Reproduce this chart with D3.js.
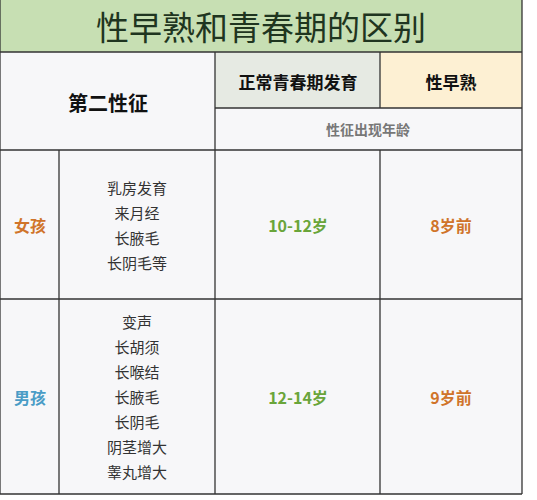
<!DOCTYPE html><html><head><meta charset="utf-8"><script src="https://cdn.jsdelivr.net/npm/d3@7"></script>
<style>body{margin:0;background:#fff}</style></head><body><svg id="c" width="537" height="500"></svg><script>
const title="性早熟和青春期的区别";
const headers=["第二性征","正常青春期发育","性早熟","性征出现年龄"];
const groups=["女孩","男孩"];
const groupColors=["#d0742a","#4a9cc6"];
const traits=[["乳房发育","来月经","长腋毛","长阴毛等"],["变声","长胡须","长喉结","长腋毛","长阴毛","阴茎增大","睾丸增大"]];
const normalAges=["10-12岁","12-14岁"];
const earlyAges=["8岁前","9岁前"];
const svg=d3.select("#c");const F="'Noto Sans CJK SC',sans-serif";
const y=d3.scaleLinear().domain([0,1]).range([150,494]);
const rowB=[0,(299-150)/344,1];
svg.append("rect").attr("x",0).attr("y",0).attr("width",522).attr("height",52).attr("fill","#c7dfb3");
svg.append("rect").attr("x",0).attr("y",52).attr("width",522).attr("height",442).attr("fill","#f7f7f9");
svg.append("rect").attr("x",215).attr("y",52).attr("width",165).attr("height",56).attr("fill","#e6eae3");
svg.append("rect").attr("x",380).attr("y",52).attr("width",142).attr("height",56).attr("fill","#fdf0d3");
svg.append("text").attr("x",261).attr("y",40).attr("text-anchor","middle").attr("font-family",F).attr("font-size",33).attr("fill","#1f3520").text(title);
const L=(x1,y1,x2,y2)=>svg.append("line").attr("x1",x1).attr("y1",y1).attr("x2",x2).attr("y2",y2).attr("stroke","#333").attr("stroke-width",1.3);
L(0,52,522,52);L(215,52,215,494);L(380,52,380,108);L(380,150,380,494);L(215,108,522,108);
L(0,150,522,150);L(59,150,59,494);L(0,y(rowB[1]),522,y(rowB[1]));L(0,494,522,494);L(522,0,522,494);L(0,0,0,494);
const T=(tx,ty,s,fs,c,w)=>svg.append("text").attr("x",tx).attr("y",ty).attr("text-anchor","middle").attr("dominant-baseline","central").attr("font-family",F).attr("font-size",fs).attr("fill",c).attr("font-weight",w).text(s);
T(108,102,headers[0],20,"#111",700);T(298,81,headers[1],17,"#111",700);T(451,81,headers[2],17,"#111",700);T(368,129,headers[3],14,"#777",700);
groups.forEach((g,i)=>{const y0=y(rowB[i]),y1=y(rowB[i+1]),cy=(y0+y1)/2;
T(30,cy,g,16,groupColors[i],700);
const n=traits[i].length;traits[i].forEach((t,j)=>T(137,cy+(j-(n-1)/2)*25,t,15,"#333",400));
T(298,cy,normalAges[i],16,"#6aa53a",700);T(451,cy,earlyAges[i],16,"#d0742a",700);});
</script></body></html>
